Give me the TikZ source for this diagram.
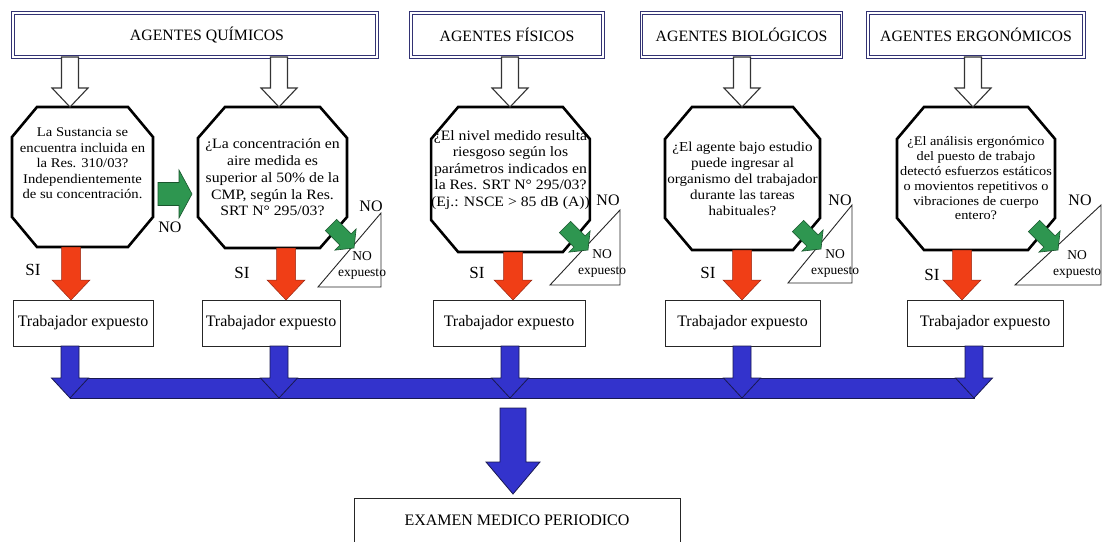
\documentclass[tikz,border=0pt]{standalone}
\usepackage{fontspec}
\setmainfont{Liberation Serif}
\newfontfamily\widefont[FakeStretch=1.1]{Liberation Serif}
\usetikzlibrary{calc}
\definecolor{redf}{RGB}{240,62,22}
\definecolor{redl}{RGB}{150,40,20}
\definecolor{greenf}{RGB}{46,150,80}
\definecolor{greenl}{RGB}{25,85,45}
\definecolor{bluef}{RGB}{51,51,204}
\definecolor{bluel}{RGB}{25,25,80}
\definecolor{hdrc}{RGB}{50,50,115}
% block arrow: style, from, to, half shaft, half head, head length
\newcommand\blockarr[6]{%
  \coordinate (bah) at ($(#3)!#6!(#2)$);
  \path[#1] ($(#2)!#4!90:(#3)$) -- ($(bah)!#4!90:(#3)$) -- ($(bah)!#5!90:(#3)$) -- (#3)
    -- ($(bah)!#5!-90:(#3)$) -- ($(bah)!#4!-90:(#3)$) -- ($(#2)!#4!-90:(#3)$) -- cycle;}
% octagon around node: name, x cut, y cut
\newcommand\octo[3]{%
  \draw[octline] ($(#1.north west)+(#2,0)$) -- ($(#1.north east)+(-#2,0)$)
    -- ($(#1.north east)+(0,#3)$) -- ($(#1.south east)+(0,-#3)$)
    -- ($(#1.south east)+(-#2,0)$) -- ($(#1.south west)+(#2,0)$)
    -- ($(#1.south west)+(0,-#3)$) -- ($(#1.north west)+(0,#3)$) -- cycle;}
\begin{document}
\begin{tikzpicture}[x=1pt,y=-1pt,
  hdr/.style={draw=hdrc, double=white, double distance=1.4pt, line width=0.95pt, minimum height=44pt, inner sep=0pt, outer sep=0pt, font=\fontsize{15.8}{18}\selectfont},
  octn/.style={inner sep=0pt, outer sep=0pt, align=center},
  octline/.style={draw=black, line width=2.6pt},
  tbox/.style={draw=black!85, line width=0.9pt, minimum height=46pt, inner sep=0pt, outer sep=0pt, font=\fontsize{16}{18}\selectfont},
  hollow/.style={draw=black!80, line width=1.1pt, fill=white},
  redarr/.style={fill=redf, draw=redl, line width=0.5pt},
  greenarr/.style={fill=greenf, draw=greenl, line width=0.6pt},
  bluearr/.style={fill=bluef, draw=bluel, line width=0.8pt},
  tri/.style={draw=black!85, line width=0.9pt},
  lbl/.style={font=\fontsize{17}{19}\selectfont, inner sep=0pt},
  nolbl/.style={font=\fontsize{16}{18}\selectfont, inner sep=0pt},
  tlbl/.style={font=\fontsize{13.5}{15}\selectfont, inner sep=0pt, align=center}
]
\useasboundingbox (0,0) rectangle (1103,541);
\fill[white] (0,0) rectangle (1103,541);

% headers
\node[hdr, minimum width=364pt] (h1) at (195,35) {\hspace*{24pt}AGENTES QUÍMICOS};
\node[hdr, minimum width=192pt] (h2) at (507,35) {AGENTES FÍSICOS};
\node[hdr, minimum width=200pt] (h3) at (741.5,35) {AGENTES BIOLÓGICOS};
\node[hdr, minimum width=216pt] (h4) at (976,35) {AGENTES ERGONÓMICOS};

% octagons (shape nodes sized to the outline)
\node[octn, minimum width=141pt, minimum height=140pt, font=\widefont\fontsize{13.3}{15.5}\selectfont] (o1) at (82.5,177)
  {La Sustancia se\\encuentra incluida en\\la Res. 310/03?\\Independientemente\\de su concentración.\\[12pt]};
\node[octn, minimum width=149pt, minimum height=141pt, font=\widefont\fontsize{14.3}{16.7}\selectfont] (o2) at (272.5,177.5)
  {¿La concentración en\\aire medida es\\superior al 50\% de la\\CMP, según la Res.\\SRT N° 295/03?};
\node[octn, minimum width=155pt, minimum height=145pt, font=\widefont\fontsize{14.3}{16.5}\selectfont] (o3) at (510.5,179.5)
  {¿El nivel medido resulta\\riesgoso según los\\parámetros indicados en\\la Res. SRT N° 295/03?\\(Ej.: NSCE > 85 dB (A))\\[6pt]};
\node[octn, minimum width=155pt, minimum height=143pt, font=\widefont\fontsize{13.7}{16}\selectfont] (o4) at (742.5,178.5)
  {\\[-6pt]¿El agente bajo estudio\\puede ingresar al\\organismo del trabajador\\durante las tareas\\habituales?};
\node[octn, minimum width=158pt, minimum height=143pt, font=\widefont\fontsize{13}{14.8}\selectfont] (o5) at (976,178.5)
  {¿El análisis ergonómico\\del puesto de trabajo\\detectó esfuerzos estáticos\\o movientos repetitivos o\\vibraciones de cuerpo\\entero?};
\octo{o1}{25}{30}
\octo{o2}{27}{31}
\octo{o3}{27}{32}
\octo{o4}{27}{32}
\octo{o5}{27}{32}

% worker boxes
\node[tbox, minimum width=140pt] (b1) at (83,323) {Trabajador expuesto};
\node[tbox, minimum width=138pt] (b2) at (271,323) {Trabajador expuesto};
\node[tbox, minimum width=152pt] (b3) at (509,323) {Trabajador expuesto};
\node[tbox, minimum width=155pt] (b4) at (742.5,323) {Trabajador expuesto};
\node[tbox, minimum width=156pt] (b5) at (985,323) {Trabajador expuesto};

% hollow arrows header -> octagon
\blockarr{hollow}{70,0 |- h1.south}{70,0 |- o1.north}{8.5pt}{18pt}{19pt}
\blockarr{hollow}{279,0 |- h1.south}{279,0 |- o2.north}{8.5pt}{18pt}{19pt}
\blockarr{hollow}{510,0 |- h2.south}{510,0 |- o3.north}{8.5pt}{18pt}{19pt}
\blockarr{hollow}{742,0 |- h3.south}{742,0 |- o4.north}{8.5pt}{18pt}{19pt}
\blockarr{hollow}{973,0 |- h4.south}{973,0 |- o5.north}{8.5pt}{18pt}{19pt}

% red SI arrows
\blockarr{redarr}{71,0 |- o1.south}{71,0 |- b1.north}{9.5pt}{19pt}{20pt}
\blockarr{redarr}{286,0 |- o2.south}{286,0 |- b2.north}{9.5pt}{19pt}{20pt}
\blockarr{redarr}{513,0 |- o3.south}{513,0 |- b3.north}{9.5pt}{19pt}{20pt}
\blockarr{redarr}{742,0 |- o4.south}{742,0 |- b4.north}{9.5pt}{19pt}{20pt}
\blockarr{redarr}{962,0 |- o5.south}{962,0 |- b5.north}{9.5pt}{19pt}{20pt}
\node[lbl] (si1) at (33,270) {SI};
\node[lbl] (si2) at (242,273) {SI};
\node[lbl] (si3) at (477,273) {SI};
\node[lbl] (si4) at (708,273) {SI};
\node[lbl] (si5) at (932,275) {SI};

% green NO arrow between first two octagons
\coordinate (g1s) at (158,194);
\coordinate (g1e) at (192,194);
\blockarr{greenarr}{g1s}{g1e}{11.5pt}{24pt}{13pt}
\node[nolbl] (no1) at (170,227) {NO};

% NO expuesto triangles
\draw[tri] (318,287) -- (381,287) -- (381,213) -- cycle;
\draw[tri] (550,285) -- (620,285) -- (620,210) -- cycle;
\draw[tri] (788,283) -- (852,283) -- (852,205) -- cycle;
\draw[tri] (1015,285) -- (1101,285) -- (1101,205) -- cycle;
\node[tlbl] (t2) at (362,265) {NO\\[1pt]expuesto};
\node[tlbl] (t3) at (602,263) {NO\\[1pt]expuesto};
\node[tlbl] (t4) at (835,263) {NO\\[1pt]expuesto};
\node[tlbl] (t5) at (1077,264) {NO\\[1pt]expuesto};
\node[nolbl] (no2) at (371,206) {NO};
\node[nolbl] (no3) at (608,200) {NO};
\node[nolbl] (no4) at (840,200) {NO};
\node[nolbl] (no5) at (1080,200) {NO};

% diagonal green arrows octagon -> triangle
\coordinate (g2s) at (331,225); \coordinate (g2e) at (354,248);
\coordinate (g3s) at (565,227); \coordinate (g3e) at (588,250);
\coordinate (g4s) at (798,226); \coordinate (g4e) at (821,249);
\coordinate (g5s) at (1034,226); \coordinate (g5e) at (1058,250);
\blockarr{greenarr}{g2s}{g2e}{8pt}{15pt}{12pt}
\blockarr{greenarr}{g3s}{g3e}{8pt}{15pt}{12pt}
\blockarr{greenarr}{g4s}{g4e}{8pt}{15pt}{12pt}
\blockarr{greenarr}{g5s}{g5e}{8pt}{15pt}{12pt}

% blue bus
\node[fill=bluef, draw=bluel, line width=0.8pt, minimum width=904pt, minimum height=20pt, inner sep=0pt, outer sep=0pt] (bus) at (522,388) {};
\blockarr{bluearr}{70,0 |- b1.south}{70,0 |- bus.south}{9pt}{18.5pt}{20pt}
\blockarr{bluearr}{279,0 |- b2.south}{279,0 |- bus.south}{9pt}{18.5pt}{20pt}
\blockarr{bluearr}{510,0 |- b3.south}{510,0 |- bus.south}{9pt}{18.5pt}{20pt}
\blockarr{bluearr}{742,0 |- b4.south}{742,0 |- bus.south}{9pt}{18.5pt}{20pt}
\blockarr{bluearr}{974,0 |- b5.south}{974,0 |- bus.south}{9pt}{18.5pt}{20pt}

% final exam
\node[tbox, minimum width=326pt, minimum height=44pt] (ex) at (517,520) {EXAMEN MEDICO PERIODICO};
\coordinate (bigs) at (513,408);
\coordinate (bige) at (513,494);
\blockarr{bluearr}{bigs}{bige}{13pt}{27pt}{32pt}
\end{tikzpicture}
\end{document}
